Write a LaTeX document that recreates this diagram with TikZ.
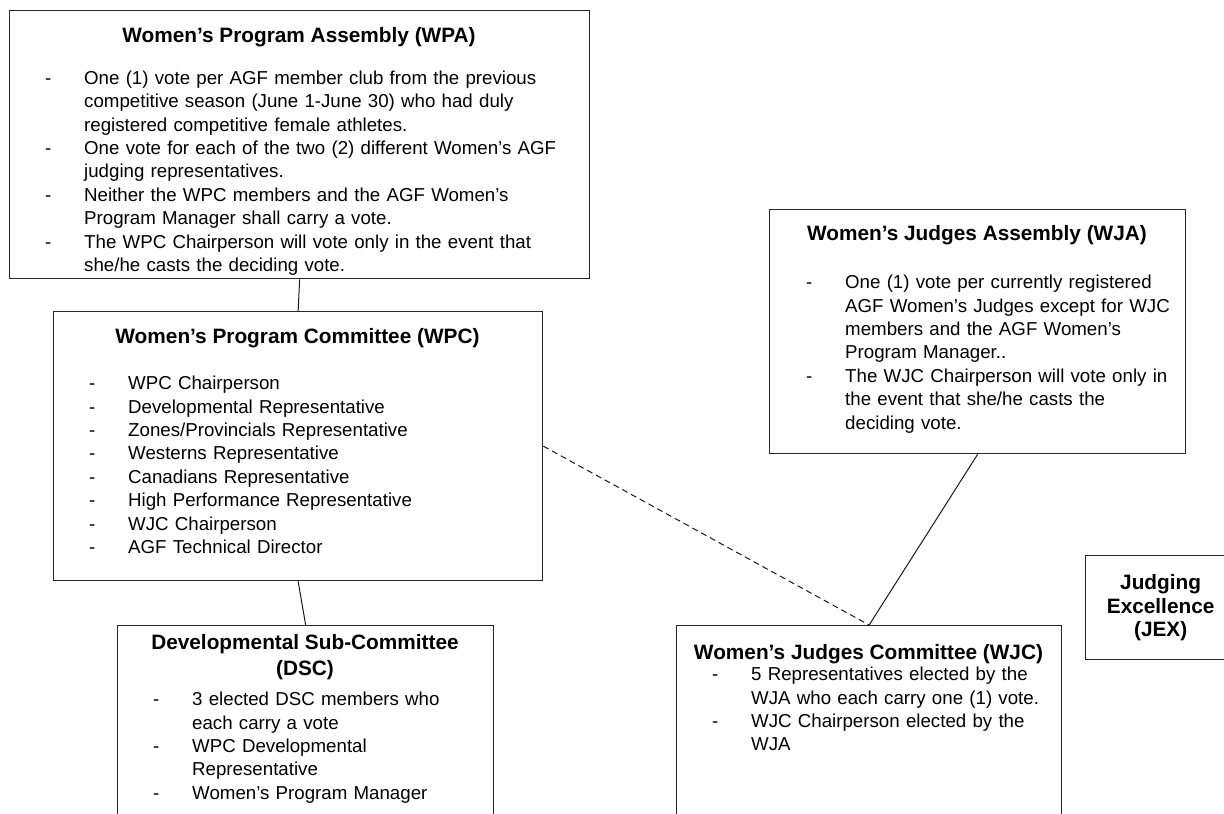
\documentclass[tikz,border=0pt]{standalone}
\usepackage{fontspec}
\setmainfont{Liberation Sans}
\newcommand{\bodyfont}{\fontsize{18.7}{23.4}\selectfont}
\newcommand{\headfont}{\fontsize{20.8}{26}\selectfont\bfseries}
\newcommand{\jexfont}{\fontsize{20.8}{23.5}\selectfont\bfseries}
\newcommand{\dashitem}[1]{\par\noindent\llap{\makebox[39pt][l]{-}}\strut#1}

\begin{document}
\begin{tikzpicture}[x=1pt, y=-1pt,
  box/.style={draw=black!85, line width=1.3pt, anchor=north west, inner sep=0pt},
  head/.style={anchor=north, inner sep=0pt, font=\headfont, align=center},
  list/.style={anchor=north west, inner sep=0pt, font=\bodyfont, text width=#1, align=left},
  link/.style={draw=black!90, line width=1pt}]
\useasboundingbox (0,0) rectangle (1224,814);
\clip (0,0) rectangle (1224,814);

\node[box, minimum width=580pt, minimum height=268pt] (wpa) at (9,10) {};
\node[box, minimum width=489pt, minimum height=269pt] (wpc) at (53,311) {};
\node[box, minimum width=376pt, minimum height=230pt] (dsc) at (117,625) {};
\node[box, minimum width=416pt, minimum height=244pt] (wja) at (769,209) {};
\node[box, minimum width=385pt, minimum height=230pt] (wjc) at (676,625) {};
\node[box, minimum width=150pt, minimum height=104pt, font=\jexfont, align=center] (jex) at (1085,555) {Judging\\Excellence\\(JEX)};

\node[head] (wpahead) at (299,23.8) {\strut Women's Program Assembly (WPA)};
\node[list=500pt] (wpalist) at (84,60.6) {%
\dashitem{One (1) vote per AGF member club from the previous\newline competitive season (June 1-June 30) who had duly\newline registered competitive female athletes.}
\dashitem{One vote for each of the two (2) different Women's AGF\newline judging representatives.}
\dashitem{Neither the WPC members and the AGF Women's\newline Program Manager shall carry a vote.}
\dashitem{The WPC Chairperson will vote only in the event that\newline she/he casts the deciding vote.}};

\node[head] (wpchead) at (297.5,324.8) {\strut Women's Program Committee (WPC)};
\node[list=410pt] (wpclist) at (128,366.1) {%
\dashitem{WPC Chairperson}
\dashitem{Developmental Representative}
\dashitem{Zones/Provincials Representative}
\dashitem{Westerns Representative}
\dashitem{Canadians Representative}
\dashitem{High Performance Representative}
\dashitem{WJC Chairperson}
\dashitem{AGF Technical Director}};

\node[head] (dschead) at (305,630.8) {\strut Developmental Sub-Committee\\(DSC)};
\node[list=295pt] (dsclist) at (192,682.1) {%
\dashitem{3 elected DSC members who\newline each carry a vote}
\dashitem{WPC Developmental\newline Representative}
\dashitem{Women's Program Manager}};

\node[head] (wjahead) at (977,221.8) {\strut Women's Judges Assembly (WJA)};
\node[list=338pt] (wjalist) at (845,265.1) {%
\dashitem{One (1) vote per currently registered\newline AGF Women's Judges except for WJC\newline members and the AGF Women's\newline Program Manager..}
\dashitem{The WJC Chairperson will vote only in\newline the event that she/he casts the\newline deciding vote.}};

\node[head] (wjchead) at (868.5,640.8) {\strut Women's Judges Committee (WJC)};
\node[list=305pt] (wjclist) at (751,657.1) {%
\dashitem{5 Representatives elected by the\newline WJA who each carry one (1) vote.}
\dashitem{WJC Chairperson elected by the\newline WJA}};

\draw[link] (wpa.south) -- (wpc.north);
\draw[link] (wpc.south) -- (dsc.north);
\draw[link, dash pattern=on 6pt off 4pt] (wpc.east) -- (wjc.north);
\draw[link] (wja.south) -- (wjc.north);
\end{tikzpicture}
\end{document}
